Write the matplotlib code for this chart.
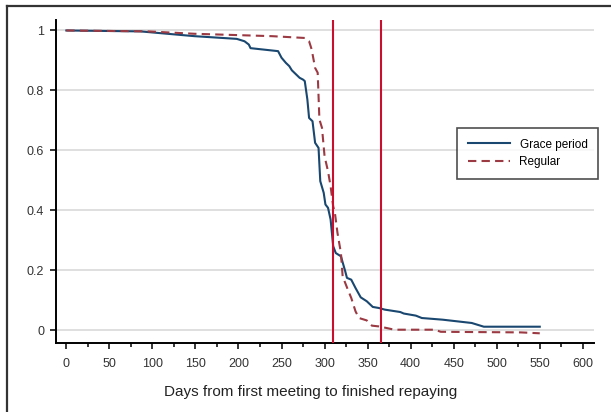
import matplotlib
matplotlib.use('Agg')
from matplotlib import pyplot as plt
from matplotlib.lines import Line2D
from matplotlib.ticker import MultipleLocator, FuncFormatter

# Share of groups still repaying, by days since first meeting
grace_days = [0, 86, 149, 198, 207, 212, 214, 246, 250, 255, 259, 262, 271, 275,
              277, 280, 282, 286, 289, 293, 295, 299, 301, 304, 307, 310, 313,
              319, 324, 326, 331, 336, 342, 349, 356, 363, 370, 388, 392, 406,
              413, 437, 471, 485, 550]
grace_share = [1.0, 0.997, 0.981, 0.972, 0.964, 0.953, 0.941, 0.931, 0.909, 0.892,
               0.881, 0.867, 0.842, 0.836, 0.831, 0.770, 0.708, 0.697, 0.625,
               0.608, 0.497, 0.458, 0.419, 0.408, 0.369, 0.280, 0.257, 0.246,
               0.196, 0.174, 0.168, 0.140, 0.109, 0.096, 0.077, 0.0735, 0.068,
               0.060, 0.055, 0.048, 0.040, 0.0345, 0.0234, 0.011, 0.011]

regular_days = [0, 95, 149, 194, 239, 277, 282, 285, 289, 292, 294, 297, 300, 304,
                307, 310, 312, 315, 319, 321, 327, 331, 336, 340, 349, 355, 363,
                372, 381, 428, 435, 528, 550]
regular_share = [1.0, 0.997, 0.989, 0.985, 0.981, 0.975, 0.964, 0.937, 0.875,
                 0.859, 0.703, 0.675, 0.580, 0.530, 0.480, 0.413, 0.391, 0.324,
                 0.257, 0.179, 0.135, 0.107, 0.062, 0.040, 0.032, 0.0145, 0.012,
                 0.0067, 0.001, 0.001, -0.006, -0.008, -0.011]

ref_days = [310, 365]
x_ticks = list(range(0, 601, 50))
y_ticks = [0, 0.2, 0.4, 0.6, 0.8, 1]

navy = '#1a476f'
maroon = '#9b3a42'
red = '#c8102e'

plt.rcParams['font.family'] = ['Liberation Sans', 'DejaVu Sans']

fig = plt.figure(figsize=(6.11, 4.12), dpi=100)
ax = fig.add_axes([56 / 611, 69 / 412, 538 / 611, 323 / 412])

for y in y_ticks:
    ax.axhline(y, color='#dcdcdc', lw=1.3, zorder=0)

ax.plot(grace_days, grace_share, color=navy, lw=1.5, label='Grace period', zorder=3)
ax.plot(regular_days, regular_share, color=maroon, lw=1.5, ls=(0, (4, 2.5)),
        label='Regular', zorder=3)
for d in ref_days:
    ax.axvline(d, color=red, lw=1.5, zorder=4)

ax.set_xlim(-12, 613)
ax.set_ylim(-0.0434, 1.035)

ax.set_xticks(x_ticks)
ax.xaxis.set_minor_locator(MultipleLocator(25))
ax.set_yticks(y_ticks)
ax.yaxis.set_major_formatter(FuncFormatter(lambda v, p: '%g' % v))

for side in ['top', 'right']:
    ax.spines[side].set_visible(False)
for side in ['left', 'bottom']:
    ax.spines[side].set_linewidth(1.4)
    ax.spines[side].set_color('black')

ax.tick_params(axis='both', which='major', direction='out', length=4.5, width=1.1,
               labelsize=9, pad=4, colors='black', labelcolor='#333333')
ax.tick_params(axis='x', which='major', pad=6)
ax.tick_params(axis='x', which='minor', direction='out', length=3, width=1.1)

ax.set_xlabel('Days from first meeting to finished repaying', fontsize=11,
              color='#222222', labelpad=11)
ax.xaxis.label.set_x((311 - 56) / 538)

leg = fig.legend(loc='upper right', bbox_to_anchor=(598 / 611, 1 - 128 / 412),
                 fontsize=8.5, frameon=True, fancybox=False, borderaxespad=0,
                 handlelength=3.6, handletextpad=0.8, borderpad=0.9,
                 labelspacing=0.45)
leg.get_frame().set_edgecolor('#222222')
leg.get_frame().set_linewidth(1.2)

# border of the page box the figure was cut from
fig.add_artist(Line2D([7 / 611, 1], [1 - 6 / 412, 1 - 6 / 412],
                      color='#333333', lw=1.6, transform=fig.transFigure))
fig.add_artist(Line2D([7 / 611, 7 / 611], [0, 1 - 6 / 412],
                      color='#333333', lw=1.6, transform=fig.transFigure))

fig.savefig('out.png', dpi=100)
